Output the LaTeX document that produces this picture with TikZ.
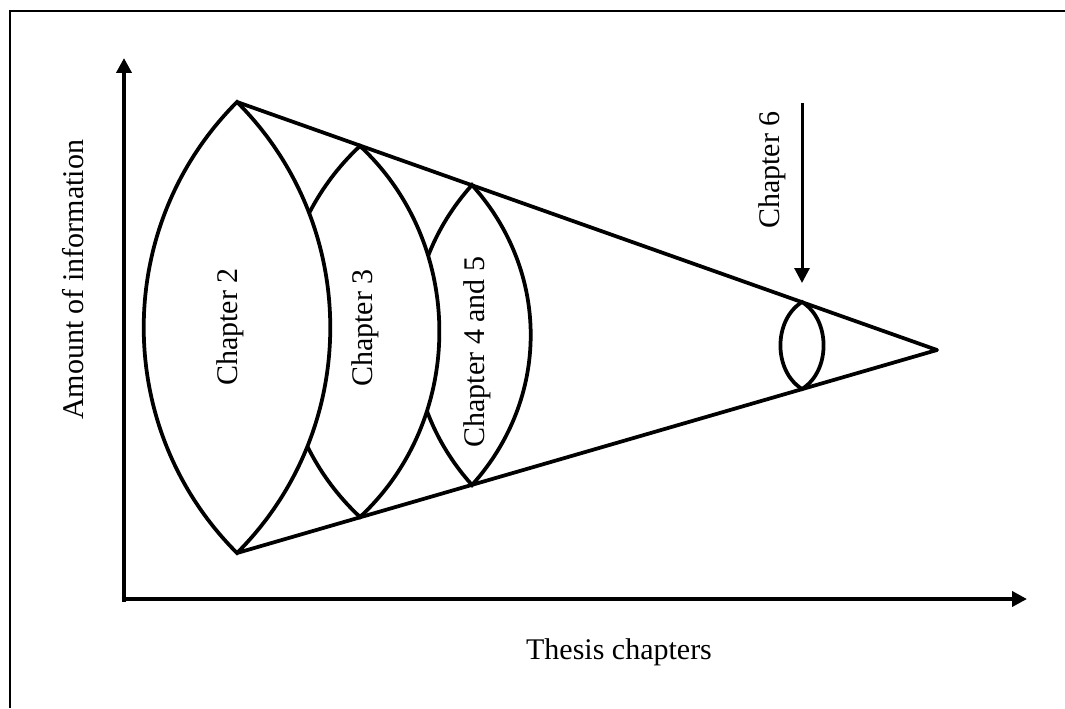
\documentclass[tikz,border=0pt]{standalone}
\usepackage{fontspec}
\setmainfont{Liberation Serif}
\usetikzlibrary{arrows.meta}
\tikzset{
  frameline/.style={line width=1pt},
  axis/.style={line width=1.7pt, -{Triangle[length=6pt, width=6pt]}},
  cone/.style={line width=1.5pt, line join=round},
  lens/.style={draw, fill=white, line width=1.5pt},
  pointer/.style={line width=1.2pt, -{Triangle[length=6pt, width=6pt]}},
  chap/.style={rotate=90, font=\fontsize{12}{14}\selectfont, inner sep=0pt},
  axlabel/.style={font=\fontsize{12}{14}\selectfont, inner sep=0pt}
}
\begin{document}
\begin{tikzpicture}[x=0.4pt, y=0.4pt]
  \useasboundingbox (0,0) rectangle (1065,708);
  % frame (top and left edge only)
  \coordinate (frtl) at (10,697);
  \draw[frameline] (10,0) -- (frtl) -- (1065,697);
  % axes
  \coordinate (origin) at (124,109);
  \coordinate (ytip) at (124,650);
  \coordinate (xtip) at (1027,109);
  \draw[axis] ([yshift=-1pt]origin) -- (ytip);
  \draw[axis] ([xshift=-1pt]origin) -- (xtip);
  % cone
  \coordinate (apex) at (937,358);
  \coordinate (c2top) at (237,606);
  \coordinate (c2bot) at (237,155);
  \coordinate (c3top) at (360,562);
  \coordinate (c3bot) at (360,191);
  \coordinate (c45top) at (472,523);
  \coordinate (c45bot) at (472,223);
  \coordinate (c6top) at (802,406);
  \coordinate (c6bot) at (802,319);
  \draw[cone] (c2top) -- (apex) -- (c2bot);
  % lenses, right to left so the bigger ones lie on top
  \draw[lens] (c6top) to[bend right=58] (c6bot) to[bend right=58] cycle;
  \draw[lens] (c45top) to[bend right=42] (c45bot) to[bend right=42] cycle;
  \draw[lens] (c3top) to[bend right=47] (c3bot) to[bend right=47] cycle;
  \draw[lens] (c2top) to[bend right=45] (c2bot) to[bend right=45] cycle;
  % labels
  \node[chap] (ch2) at (230,381) {Chapter 2};
  \node[chap] (ch3) at (365,380) {Chapter 3};
  \node[chap] (ch45) at (477,356) {Chapter 4 and 5};
  \node[chap] (ch6) at (772,538) {Chapter 6};
  \coordinate (c6tail) at (802,605);
  \coordinate (c6head) at (802,425);
  \draw[pointer] (c6tail) -- (c6head);
  \node[chap] (ylab) at (73,428) {Amount of information};
  \node[axlabel] (xlab) at (619,56) {Thesis chapters};
\end{tikzpicture}
\end{document}
